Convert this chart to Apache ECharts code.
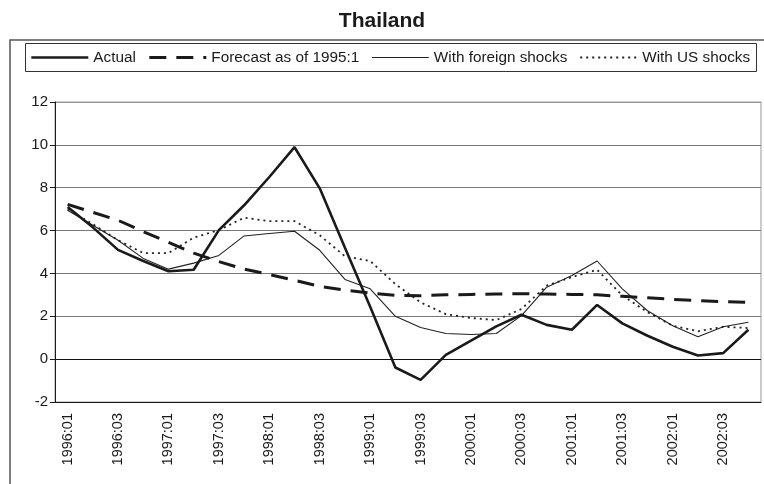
<!DOCTYPE html>
<html>
<head>
<meta charset="utf-8">
<script src="https://cdn.jsdelivr.net/npm/echarts@6/dist/echarts.min.js"></script>
<style>
  html, body { margin: 0; padding: 0; background: #fff; }
  #chart { width: 764px; height: 484px; }
</style>
</head>
<body>
<div id="chart"></div>
<script>
// quarters shown on the x axis
const quarters = [
  '1996:01', '1996:02', '1996:03', '1996:04',
  '1997:01', '1997:02', '1997:03', '1997:04',
  '1998:01', '1998:02', '1998:03', '1998:04',
  '1999:01', '1999:02', '1999:03', '1999:04',
  '2000:01', '2000:02', '2000:03', '2000:04',
  '2001:01', '2001:02', '2001:03', '2001:04',
  '2002:01', '2002:02', '2002:03', '2002:04',
]

const actual = [7.1, 6.15, 5.1, 4.58, 4.1, 4.17, 6.02, 7.18, 8.5, 9.89, 7.97, 5.2, 2.45, -0.39,
  -0.97, 0.2, 0.86, 1.53, 2.07, 1.6, 1.37, 2.53, 1.67, 1.09, 0.58, 0.17, 0.28, 1.37]
const forecast = [7.22, 6.85, 6.48, 5.95, 5.45, 4.95, 4.55, 4.2, 3.95, 3.68, 3.4, 3.22, 3.08, 2.98,
  2.96, 3.0, 3.02, 3.04, 3.05, 3.04, 3.02, 3.0, 2.93, 2.86, 2.79, 2.73, 2.68, 2.65]
const foreignShocks = [6.95, 6.25, 5.55, 4.7, 4.2, 4.48, 4.84, 5.75, 5.86, 5.97, 5.08, 3.72, 3.28, 2.0,
  1.48, 1.2, 1.15, 1.2, 2.03, 3.36, 3.9, 4.58, 3.28, 2.26, 1.56, 1.05, 1.51, 1.72]
const usShocks = [6.98, 6.3, 5.55, 4.95, 4.95, 5.67, 6.02, 6.6, 6.44, 6.44, 5.78, 4.8, 4.58, 3.5,
  2.65, 2.1, 1.92, 1.82, 2.34, 3.43, 3.83, 4.17, 2.97, 2.19, 1.56, 1.3, 1.51, 1.45]

const yTicks = { min: -2, max: 12, step: 2 }

const font = 'Liberation Sans, Arial, sans-serif'
const ink = '#1a1a1a'

// line look of each series, shared by the plot and the legend
const styles = {
  actual: { color: ink, width: 2.6, type: 'solid' },
  forecast: { color: ink, width: 3, type: [17, 10] },
  foreign: { color: '#222', width: 1.1, type: 'solid' },
  us: { color: '#222', width: 1.8, type: [2, 4] },
}

const chart = echarts.init(document.getElementById('chart'), null, { renderer: 'canvas' })

const option = {
  animation: false,
  backgroundColor: '#fff',
  title: {
    text: 'Thailand',
    left: 'center',
    top: 6,
    textStyle: { fontFamily: font, fontSize: 21, fontWeight: 'bold', color: ink },
  },
  graphic: [
    // outer frame of the figure
    {
      type: 'rect',
      shape: { x: 10, y: 40, width: 760, height: 480 },
      style: { fill: 'none', stroke: '#555', lineWidth: 1.5 },
      silent: true,
    },
    // legend box
    {
      type: 'rect',
      shape: { x: 25.5, y: 43.5, width: 731, height: 28 },
      style: { fill: 'none', stroke: '#333', lineWidth: 1 },
      silent: true,
    },
  ],
  legend: {
    left: 30,
    top: 50,
    padding: 0,
    itemWidth: 57,
    itemHeight: 14,
    itemGap: 12,
    itemStyle: { opacity: 0 },
    textStyle: { fontFamily: font, fontSize: 15.3, color: ink },
    data: [
      { name: 'Actual', lineStyle: styles.actual },
      { name: 'Forecast as of 1995:1', lineStyle: styles.forecast },
      { name: 'With foreign shocks', lineStyle: styles.foreign },
      { name: 'With US shocks', lineStyle: styles.us },
    ],
  },
  grid: {
    left: 55,
    top: 102,
    right: 3,
    bottom: 82,
    show: true,
    borderColor: '#999',
    borderWidth: 1,
  },
  xAxis: {
    type: 'category',
    data: quarters,
    boundaryGap: true,
    axisLine: { onZero: false, lineStyle: { color: ink, width: 1 } },
    axisTick: { interval: 0, length: 5, lineStyle: { color: ink } },
    axisLabel: {
      interval: 1,
      rotate: 90,
      margin: 11,
      fontFamily: font,
      fontSize: 14.5,
      color: ink,
    },
    splitLine: { show: false },
  },
  yAxis: {
    type: 'value',
    min: yTicks.min,
    max: yTicks.max,
    interval: yTicks.step,
    axisLine: { show: true, lineStyle: { color: ink, width: 1 } },
    axisTick: { show: true, length: 5, lineStyle: { color: ink } },
    axisLabel: { margin: 7, fontFamily: font, fontSize: 15, color: ink },
    splitLine: {
      lineStyle: {
        color: ['#777', '#111', '#777', '#777', '#777', '#777', '#777', '#999'],
        width: 1,
      },
    },
  },
  series: [
    {
      name: 'Actual',
      type: 'line',
      data: actual,
      symbol: 'none',
      lineStyle: styles.actual,
      itemStyle: { color: styles.actual.color },
      z: 5,
    },
    {
      name: 'Forecast as of 1995:1',
      type: 'line',
      data: forecast,
      symbol: 'none',
      lineStyle: styles.forecast,
      itemStyle: { color: styles.forecast.color },
      z: 4,
    },
    {
      name: 'With foreign shocks',
      type: 'line',
      data: foreignShocks,
      symbol: 'none',
      lineStyle: styles.foreign,
      itemStyle: { color: styles.foreign.color },
      z: 3,
    },
    {
      name: 'With US shocks',
      type: 'line',
      data: usShocks,
      symbol: 'none',
      lineStyle: styles.us,
      itemStyle: { color: styles.us.color },
      z: 3,
    },
  ],
}

chart.setOption(option)
window.addEventListener('resize', () => chart.resize())
</script>
</body>
</html>
